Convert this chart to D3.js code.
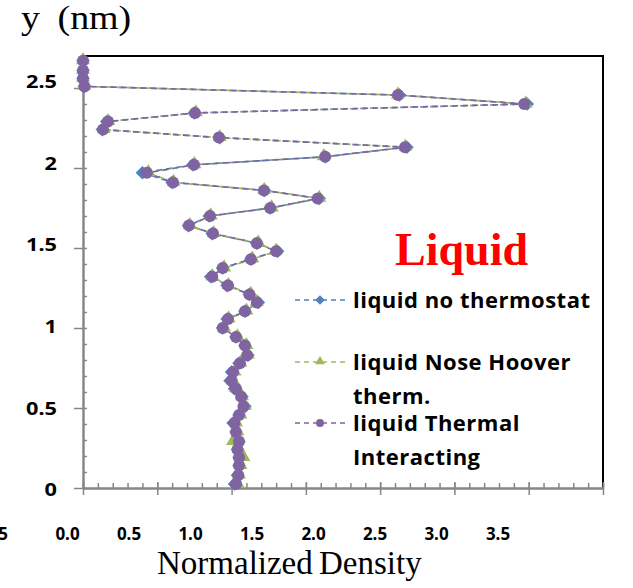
<!DOCTYPE html>
<html>
<head>
<meta charset="utf-8">
<script src="https://cdn.jsdelivr.net/npm/d3@7"></script>
<style>
  html, body { margin: 0; padding: 0; background: #fff; }
  svg { display: block; }
</style>
</head>
<body>
<svg id="chart" width="633" height="588"></svg>
<script>
// Density profile across the film thickness (y in nm)
const yNm = [2.67, 2.61, 2.56, 2.51, 2.456, 2.40, 2.344, 2.29, 2.24, 2.19,
  2.13, 2.07, 2.02, 1.97, 1.91, 1.86, 1.81, 1.75, 1.70, 1.64,
  1.59, 1.53, 1.48, 1.43, 1.375, 1.32, 1.265, 1.21, 1.16, 1.105,
  1.056, 1.00, 0.944, 0.89, 0.83, 0.78, 0.725, 0.67, 0.62, 0.57,
  0.51, 0.456, 0.406, 0.35, 0.29, 0.24, 0.19, 0.14, 0.08, 0.025];

const densNoThermostat = [0, 0, 0, 0.01, 2.13, 2.99, 0.75, 0.16, 0.13, 0.92,
  2.18, 1.63, 0.74, 0.40, 0.60, 1.22, 1.59, 1.26, 0.85, 0.71,
  0.87, 1.17, 1.31, 1.13, 0.94, 0.86, 0.97, 1.12, 1.18, 1.09,
  0.97, 0.94, 1.03, 1.09, 1.11, 1.05, 1.00, 0.99, 1.02, 1.07,
  1.09, 1.05, 1.01, 1.03, 1.05, 1.04, 1.05, 1.05, 1.04, 1.02];

const densNoseHoover = [0, 0, 0, 0.01, 2.12, 2.98, 0.76, 0.17, 0.14, 0.92,
  2.17, 1.62, 0.75, 0.44, 0.61, 1.22, 1.59, 1.27, 0.86, 0.72,
  0.88, 1.18, 1.30, 1.14, 0.95, 0.87, 0.98, 1.13, 1.17, 1.10,
  0.98, 0.95, 1.04, 1.10, 1.11, 1.06, 1.02, 1.01, 1.03, 1.07,
  1.09, 1.06, 1.03, 1.04, 1.01, 1.05, 1.08, 1.06, 1.05, 1.04];

const densThermal = [0, 0, 0, 0.01, 2.12, 2.97, 0.754, 0.168, 0.135, 0.915,
  2.167, 1.63, 0.747, 0.43, 0.606, 1.218, 1.58, 1.26, 0.855, 0.713,
  0.875, 1.17, 1.30, 1.13, 0.94, 0.87, 0.976, 1.12, 1.17, 1.09,
  0.976, 0.94, 1.03, 1.09, 1.105, 1.056, 1.01, 1.00, 1.03, 1.065,
  1.08, 1.05, 1.02, 1.03, 1.05, 1.04, 1.05, 1.05, 1.045, 1.03];

const seriesNames = ["liquid no thermostat", "liquid Nose Hoover", "liquid Thermal"];
const legendLines = [["liquid no thermostat"], ["liquid Nose Hoover", "therm."], ["liquid Thermal", "Interacting"]];
const seriesColors = ["#4F81BD", "#9BBB59", "#8064A2"];
const seriesShapes = ["diamond", "triangle", "circle"];

const xTickLabels = [-0.5, 0, 0.5, 1, 1.5, 2, 2.5, 3, 3.5];
const yTickLabels = [0, 0.5, 1, 1.5, 2, 2.5];
const xMajor = [0, 0.5, 1, 1.5, 2, 2.5, 3, 3.5];
const yMajor = [0, 0.5, 1, 1.5, 2, 2.5];

const svg = d3.select("#chart");
const x = d3.scaleLinear([0, 3.5], [83, 603]);
const y = d3.scaleLinear([0, 2.7], [488, 56]);
// tick-label placement scales
const xLab = d3.scaleLinear([0, 3.5], [67.5, 498]);
const yLab = d3.scaleLinear([0, 2.5], [490, 82]);

const axisGrey = "#878787";

// frame (top and right edges)
svg.append("path")
  .attr("d", `M${x(0)},${y(2.7)}H${x(3.5)}V${y(0)}`)
  .attr("fill", "none").attr("stroke", "#000").attr("stroke-width", 2);

// minor ticks every 0.1
const minorX = d3.range(0, 36).map(i => i / 10);
const minorY = d3.range(0, 28).map(i => i / 10);

const gxMinor = svg.append("g").attr("transform", `translate(0,${y(0)})`)
  .call(d3.axisTop(x).tickValues(minorX).tickSize(5).tickFormat(""));
const gxMajor = svg.append("g").attr("transform", `translate(0,${y(0)})`)
  .call(d3.axisBottom(x).tickValues(xMajor).tickSize(7).tickSizeOuter(0).tickFormat(""));
const gyMinor = svg.append("g").attr("transform", `translate(${x(0)},0)`)
  .call(d3.axisRight(y).tickValues(minorY).tickSize(4).tickFormat(""));
const gyMajor = svg.append("g").attr("transform", `translate(${x(0)},0)`)
  .call(d3.axisLeft(y).tickValues(yMajor).tickSize(9).tickSizeOuter(0).tickFormat(""));
gxMinor.select(".domain").remove();
gyMinor.select(".domain").remove();
[gxMinor, gxMajor, gyMinor, gyMajor].forEach(g => {
  g.selectAll("line").attr("stroke", axisGrey).attr("stroke-width", 1.5);
  g.selectAll(".domain").attr("stroke", axisGrey).attr("stroke-width", 2.5);
});
// upper part of the major x ticks
gxMajor.selectAll(".tick line").attr("y1", -6);

// tick labels
svg.append("g").selectAll("text").data(xTickLabels).join("text")
  .attr("x", d => d < 0 ? xLab(d) + 2 : xLab(d))
  .attr("y", 540)
  .attr("text-anchor", d => d < 0 ? "end" : "middle")
  .attr("font-family", "'Noto Sans', sans-serif")
  .attr("font-weight", "bold").attr("font-size", 17)
  .text(d3.format(".1f"));

svg.append("g").selectAll("text").data(yTickLabels).join("text")
  .attr("transform", d => `translate(57,${yLab(d)}) scale(1.28,1)`)
  .attr("dy", "0.36em")
  .attr("text-anchor", "end")
  .attr("font-family", "'Noto Sans', sans-serif")
  .attr("font-weight", "bold").attr("font-size", 17)
  .text(d => d3.format("")(d));

// axis titles
svg.append("text").attr("transform", "translate(21,29) scale(1.15,1)")
  .attr("font-family", "'Liberation Serif', 'Times New Roman', serif")
  .attr("font-size", 33).attr("word-spacing", 7).attr("fill", "#000")
  .text("y (nm)");
svg.append("text").attr("x", 157).attr("y", 574)
  .attr("font-family", "'Liberation Serif', 'Times New Roman', serif")
  .attr("font-size", 33).attr("word-spacing", -2).attr("fill", "#000")
  .text("Normalized Density");

// marker shapes
function marker(sel, shape, color, s) {
  if (shape === "circle") {
    sel.append("circle").attr("r", s * 0.5).attr("fill", color);
  } else if (shape === "diamond") {
    sel.append("path").attr("d", d3.symbol(d3.symbolSquare, s * s * 0.55)())
      .attr("transform", "rotate(45)").attr("fill", color);
  } else {
    sel.append("path").attr("d", d3.symbol(d3.symbolTriangle, s * s * 0.5)())
      .attr("transform", `translate(0,${-s * 0.05})`).attr("fill", color);
  }
}

const series = [densNoThermostat, densNoseHoover, densThermal].map((vals, i) => ({
  name: seriesNames[i], color: seriesColors[i], shape: seriesShapes[i],
  points: vals.map((v, j) => ({ dens: v, y: yNm[j] }))
}));

const line = d3.line().x(d => x(d.dens)).y(d => y(d.y));
const dashOffsets = [0, 4, 8];

series.forEach((s, i) => {
  svg.append("path").datum(s.points)
    .attr("d", line).attr("fill", "none")
    .attr("stroke", s.color).attr("stroke-width", 1.6)
    .attr("stroke-dasharray", "6,4").attr("stroke-dashoffset", dashOffsets[i]);
});

series.forEach(s => {
  const size = s.shape === "circle" ? 12 : 13;
  svg.append("g").selectAll("g").data(s.points).join("g")
    .attr("transform", d => `translate(${x(d.dens)},${y(d.y)})`)
    .each(function () { marker(d3.select(this), s.shape, s.color, size); });
});

// title label
svg.append("text").attr("x", 395).attr("y", 265)
  .attr("font-family", "'Liberation Serif', 'Times New Roman', serif")
  .attr("font-weight", "bold").attr("font-size", 46).attr("fill", "#FF0000")
  .text("Liquid");

// legend
const legendY = [300, 362, 423];
const legend = svg.append("g").selectAll("g").data(series).join("g")
  .attr("transform", (d, i) => `translate(0,${legendY[i]})`);
legend.append("line").attr("x1", 295).attr("x2", 346).attr("y1", 0).attr("y2", 0)
  .attr("stroke", d => d.color).attr("stroke-width", 1.5).attr("stroke-dasharray", "5,4");
legend.append("g").attr("transform", "translate(320,0)")
  .each(function (d) { marker(d3.select(this), d.shape, d.color, d.shape === "circle" ? 8 : 9); });
legend.each(function (d, i) {
  const t = d3.select(this).append("text")
    .attr("x", 353).attr("y", 8)
    .attr("font-family", "'Open Sans', sans-serif")
    .attr("font-weight", "bold").attr("font-size", 22)
    .attr("letter-spacing", 0.5).attr("fill", "#000");
  legendLines[i].forEach((ln, k) => {
    t.append("tspan").attr("x", 353).attr("dy", k === 0 ? 0 : 34).text(ln);
  });
});
</script>
</body>
</html>
